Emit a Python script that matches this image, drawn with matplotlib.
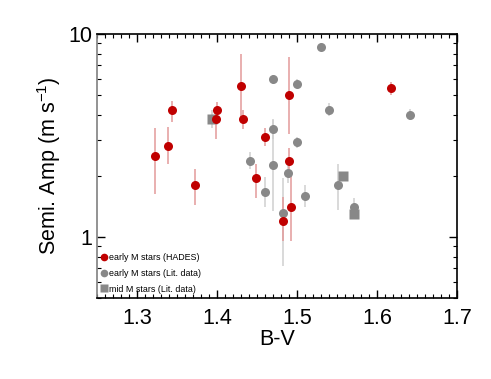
import numpy as np
import matplotlib
matplotlib.use('Agg')
import matplotlib.pyplot as plt
from matplotlib.ticker import MultipleLocator, LogLocator, NullFormatter, FixedLocator, FixedFormatter
from matplotlib.lines import Line2D

plt.rcParams['font.family'] = ['Liberation Sans', 'DejaVu Sans']

# early M stars (HADES)
hades_bv = [1.323, 1.339, 1.344, 1.373, 1.399, 1.400, 1.430, 1.432, 1.449, 1.460,
            1.482, 1.490, 1.490, 1.493, 1.617]
hades_k = [2.50, 2.80, 4.21, 1.80, 3.80, 4.21, 5.52, 3.80, 1.95, 3.10,
           1.20, 4.99, 2.36, 1.40, 5.40]
hades_lo = [1.62, 2.30, 3.70, 1.43, 3.05, 4.05, 3.80, 3.40, 1.55, 2.80,
            0.95, 3.20, 1.95, 0.95, 5.00]
hades_hi = [3.45, 3.50, 4.65, 2.17, 4.30, 4.60, 8.00, 4.20, 2.30, 3.45,
            1.57, 7.70, 2.75, 2.06, 5.80]

# early M stars (literature)
lit_bv = [1.441, 1.460, 1.470, 1.470, 1.470, 1.482, 1.489, 1.500, 1.500, 1.510,
          1.530, 1.540, 1.551, 1.571, 1.641]
lit_k = [2.37, 1.67, 5.98, 3.42, 2.26, 1.31, 2.06, 5.69, 2.93, 1.59,
         8.65, 4.24, 1.80, 1.41, 4.01]
lit_lo = [2.15, 1.40, 5.70, 3.05, 1.34, 0.72, 1.85, 5.40, 2.75, 1.40,
          8.30, 3.95, 1.35, 1.26, 3.78]
lit_hi = [2.62, 1.97, 6.30, 3.78, 3.80, 1.96, 2.30, 6.00, 3.10, 1.80,
          9.00, 4.55, 2.30, 1.56, 4.25]

# mid M stars (literature)
mid_bv = [1.394, 1.557, 1.571]
mid_k = [3.80, 1.99, 1.30]
mid_lo = [3.45, 1.90, 1.24]
mid_hi = [4.20, 2.08, 1.36]

red = '#c00000'
gray = '#888888'

fig = plt.figure(figsize=(4.91, 3.79), dpi=100)
ax = fig.add_axes([0.1976, 0.2137, 0.7332, 0.6966])


def errs(k, lo, hi):
    k = np.array(k)
    return [k - np.array(lo), np.array(hi) - k]


ax.errorbar(lit_bv, lit_k, yerr=errs(lit_k, lit_lo, lit_hi), fmt='none',
            ecolor='#d0d0d0', elinewidth=1.1, zorder=1)
ax.errorbar(mid_bv, mid_k, yerr=errs(mid_k, mid_lo, mid_hi), fmt='none',
            ecolor='#d0d0d0', elinewidth=1.1, zorder=1)
ax.errorbar(hades_bv, hades_k, yerr=errs(hades_k, hades_lo, hades_hi), fmt='none',
            ecolor='#e39a9a', elinewidth=1.1, zorder=2)
ax.plot(lit_bv, lit_k, 'o', color=gray, ms=6.5, mec='none', zorder=3)
ax.plot(mid_bv, mid_k, 's', color=gray, ms=6.5, mec='none', zorder=3)
ax.plot(hades_bv, hades_k, 'o', color=red, ms=6.5, mec='none', zorder=4)

ax.set_yscale('log')
ax.set_xlim(1.25, 1.7)
ax.set_ylim(0.5, 10)

ax.xaxis.set_major_locator(MultipleLocator(0.1))
ax.xaxis.set_minor_locator(MultipleLocator(0.01))
ax.yaxis.set_major_locator(FixedLocator([1, 10]))
ax.yaxis.set_major_formatter(FixedFormatter(['1', '10']))
ax.yaxis.set_minor_locator(LogLocator(base=10, subs=np.arange(2, 10)))
ax.yaxis.set_minor_formatter(NullFormatter())

ax.tick_params(which='both', direction='in', top=True, right=True, labelsize=15.5)
ax.tick_params(which='major', length=6, width=1)
ax.tick_params(which='minor', length=3, width=0.8)
ax.tick_params(axis='x', pad=7)
for s in ax.spines.values():
    s.set_linewidth(1.2)
ax.spines['left'].set_color('#808080')

ax.set_xlabel('B-V', fontsize=15.5, labelpad=0)
ax.set_ylabel('Semi. Amp (m s$^{\\mathregular{-1}}$)', fontsize=15.5, labelpad=4)

handles = [
    Line2D([], [], marker='o', ls='none', color=red, mec='none', ms=5.5),
    Line2D([], [], marker='o', ls='none', color=gray, mec='none', ms=5.5),
    Line2D([], [], marker='s', ls='none', color=gray, mec='none', ms=5.5),
]
labels = ['early M stars (HADES)', 'early M stars (Lit. data)', 'mid M stars (Lit. data)']
ax.legend(handles, labels, loc='lower left', frameon=False, fontsize=6.4,
          handlelength=0.6, handletextpad=0.3, labelspacing=0.75,
          borderaxespad=0.1, bbox_to_anchor=(0.0, 0.0))

fig.savefig('out.png', dpi=100)
